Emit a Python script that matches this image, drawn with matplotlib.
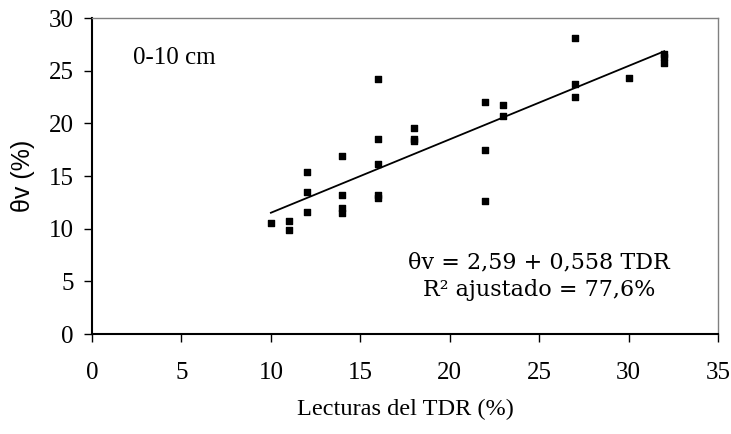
import numpy as np
from matplotlib import pyplot as plt

# lecturas TDR (%) y humedad volumetrica medida (%), 0-10 cm
tdr = [10, 11, 11, 12, 12, 12, 14, 14, 14, 14, 16, 16, 16, 16, 16, 18, 18, 18,
       22, 22, 22, 23, 23, 27, 27, 27, 30, 32, 32, 32]
theta = [10.5, 10.7, 9.9, 15.35, 13.5, 11.55, 16.9, 13.2, 12.0, 11.45,
         24.2, 18.55, 16.1, 13.2, 12.95, 19.6, 18.55, 18.35,
         22.05, 17.5, 12.65, 21.75, 20.7, 28.1, 23.7, 22.5, 24.35, 26.55, 26.3, 25.7]

xticks = [0, 5, 10, 15, 20, 25, 30, 35]
yticks = [0, 5, 10, 15, 20, 25, 30]

eq_text = "θv = 2,59 + 0,558 TDR\nR² ajustado = 77,6%"
depth_text = "0-10 cm"

plt.rcParams['font.family'] = ['Liberation Serif', 'DejaVu Serif']
plt.rcParams['font.size'] = 17.5

fig = plt.figure(figsize=(7.31, 4.34), dpi=100)
ax = fig.add_axes([0.1259, 0.2304, 0.8563, 0.7281])

ax.scatter(tdr, theta, marker='s', s=24, color='black', zorder=3)

# linea de tendencia
b, a = np.polyfit(tdr, theta, 1)
xl = np.array([min(tdr), max(tdr)])
ax.plot(xl, a + b * xl, color='black', lw=1.3)

ax.set_xlim(0, 35)
ax.set_ylim(0, 30)
ax.set_xticks(xticks)
ax.set_yticks(yticks)
ax.tick_params(direction='out', length=6, width=1, labelsize=18)
ax.tick_params(axis='x', pad=14)
ax.tick_params(axis='y', pad=7)

ax.set_xlabel("Lecturas del TDR (%)", labelpad=11)
ax.set_ylabel("θv (%)", family=['Liberation Sans', 'DejaVu Sans'], fontsize=18, labelpad=10)

for s in ['left', 'bottom']:
    ax.spines[s].set_linewidth(1.5)
    ax.spines[s].set_color('black')
for s in ['top', 'right']:
    ax.spines[s].set_linewidth(1)
    ax.spines[s].set_color('#808080')

ax.text(2.3, 26.2, depth_text, fontsize=18, va='center', ha='left')
ax.text(25, 5.5, eq_text, family=['DejaVu Serif'], fontsize=16, ha='center', va='center',
        linespacing=1.3)

fig.savefig('out.png', dpi=100)
